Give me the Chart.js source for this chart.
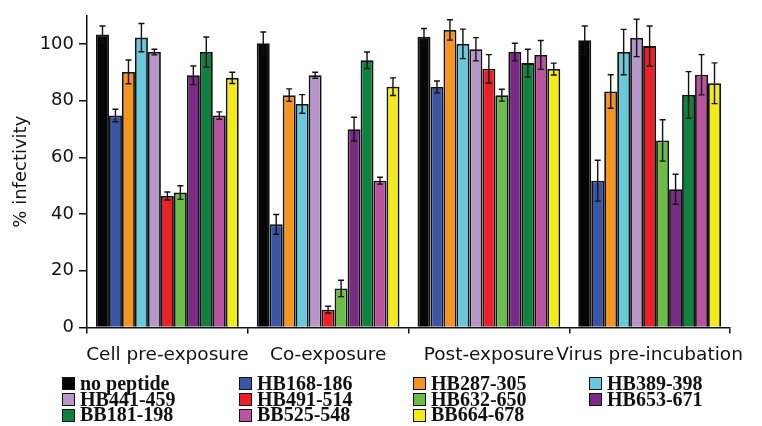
<!DOCTYPE html>
<html>
<head>
<meta charset="utf-8">
<script src="https://cdn.jsdelivr.net/npm/chart.js@4"></script>
<style>
  body { margin: 0; background: #fff; }
  #wrap { position: relative; width: 762px; height: 426px; }
  #legend {
    position: absolute; left: 62px; top: 376px;
    display: grid; grid-template-columns: 177px 174px 176px 150px;
    font: bold 20px "Liberation Serif", serif; line-height: 15.7px; color: #111;
  }
  #legend div { white-space: nowrap; display: flex; align-items: center; }
  #legend span {
    display: inline-block; width: 11px; height: 11px; border: 1.5px solid #111;
    margin-right: 5px;
  }
</style>
</head>
<body>
<div id="wrap">
  <canvas id="myChart" width="762" height="426"></canvas>
  <div id="legend"></div>
</div>
<script>
const categories = ["Cell pre-exposure", "Co-exposure", "Post-exposure", "Virus pre-incubation"];
const peptides = ["no peptide", "HB168-186", "HB287-305", "HB389-398", "HB441-459", "HB491-514",
  "HB632-650", "HB653-671", "BB181-198", "BB525-548", "BB664-678"];
const colors = ["#050505", "#3a55a5", "#f5941f", "#68c8dc", "#b797c9", "#ec2027",
  "#6cbd45", "#7b2a85", "#0f8141", "#b9529f", "#f2ea1a"];

// % infectivity per condition, one value per peptide (same order as peptides)
const cellPre    = [103.4, 74.8, 90.2, 102.3, 97.2, 46.4, 47.6, 89.0, 97.2, 74.8, 88.1];
const cellPreErr = [3, 2.2, 4.2, 5, 1, 1.4, 2.4, 3.3, 5.3, 1.3, 2];
const coExp      = [100.3, 36.4, 82.0, 78.9, 89.0, 6.3, 13.8, 70.0, 94.3, 51.8, 85.0];
const coExpErr   = [4, 3.5, 2.2, 3.3, 1.1, 1.2, 2.9, 4.2, 2.9, 1.2, 3.1];
const postExp    = [102.5, 84.9, 105.0, 100.1, 98.2, 91.3, 82.0, 97.2, 93.3, 96.2, 91.2];
const postExpErr = [3, 2.1, 3.6, 5.2, 4.1, 5, 2.1, 3.1, 4.9, 5.1, 2.1];
const virusPre    = [101.4, 51.8, 83.3, 97.2, 102.2, 99.3, 66.0, 48.8, 82.1, 89.2, 86.2];
const virusPreErr = [5, 7.2, 5.9, 8, 6.6, 7.1, 7.3, 5.3, 8.2, 7.1, 7.2];

const yTicks = [0, 20, 40, 60, 80, 100];

const groups = [cellPre, coExp, postExp, virusPre];
const groupErr = [cellPreErr, coExpErr, postExpErr, virusPreErr];

const datasets = peptides.map((name, i) => ({
  label: name,
  data: groups.map(g => g[i]),
  errors: groupErr.map(g => g[i]),
  backgroundColor: colors[i],
  borderColor: "#111",
  borderWidth: 1.8,
  categoryPercentage: 0.888,
  barPercentage: 1.0,
}));

// error bars drawn on top of the bars
const errorBars = {
  id: "errorBars",
  afterDatasetsDraw(chart) {
    const ctx = chart.ctx;
    const y = chart.scales.y;
    ctx.save();
    ctx.strokeStyle = "#111";
    ctx.lineWidth = 1.4;
    chart.data.datasets.forEach((ds, i) => {
      chart.getDatasetMeta(i).data.forEach((bar, j) => {
        const v = ds.data[j], e = ds.errors[j];
        const top = y.getPixelForValue(v + e);
        const bot = y.getPixelForValue(v - e);
        ctx.beginPath();
        ctx.moveTo(bar.x, top); ctx.lineTo(bar.x, bot);
        ctx.moveTo(bar.x - 3, top); ctx.lineTo(bar.x + 3, top);
        ctx.moveTo(bar.x - 3, bot); ctx.lineTo(bar.x + 3, bot);
        ctx.stroke();
      });
    });
    ctx.restore();
  }
};

var ctx = document.getElementById("myChart").getContext("2d");
var myChart = new Chart(ctx, {
  type: "bar",
  data: { labels: categories, datasets: datasets },
  plugins: [errorBars],
  options: {
    responsive: false,
    animation: false,
    layout: { padding: { left: 0, right: 32, top: 15, bottom: 0 } },
    plugins: { legend: { display: false }, tooltip: { enabled: false } },
    scales: {
      x: {
        afterFit: s => { s.height = 98.5; },
        grid: { display: true, drawOnChartArea: false, offset: true, color: "#111", tickLength: 6, lineWidth: 1.5 },
        border: { display: true, color: "#111", width: 1.5 },
        ticks: { color: "#111", padding: 11, maxRotation: 0, minRotation: 0, autoSkip: false,
          font: { family: "DejaVu Sans", size: 18.5 } }
      },
      y: {
        min: 0, max: 110,
        afterFit: s => { s.width = 87; },
        afterBuildTicks: s => { s.ticks = yTicks.map(v => ({ value: v })); },
        grid: { display: true, drawOnChartArea: false, color: "#111", tickLength: 8, lineWidth: 1.5 },
        border: { display: true, color: "#111", width: 1.5 },
        ticks: { color: "#111", padding: 5, font: { family: "DejaVu Sans", size: 18 } },
        title: { display: true, text: "% infectivity", color: "#111", padding: { top: 11, bottom: 0 },
          font: { family: "DejaVu Sans", size: 18 } }
      }
    }
  }
});

// legend in 4 columns, row by row
const legend = document.getElementById("legend");
peptides.forEach((name, i) => {
  const item = document.createElement("div");
  item.innerHTML = `<span style="background:${colors[i]}"></span>${name}`;
  legend.appendChild(item);
});
</script>
</body>
</html>
